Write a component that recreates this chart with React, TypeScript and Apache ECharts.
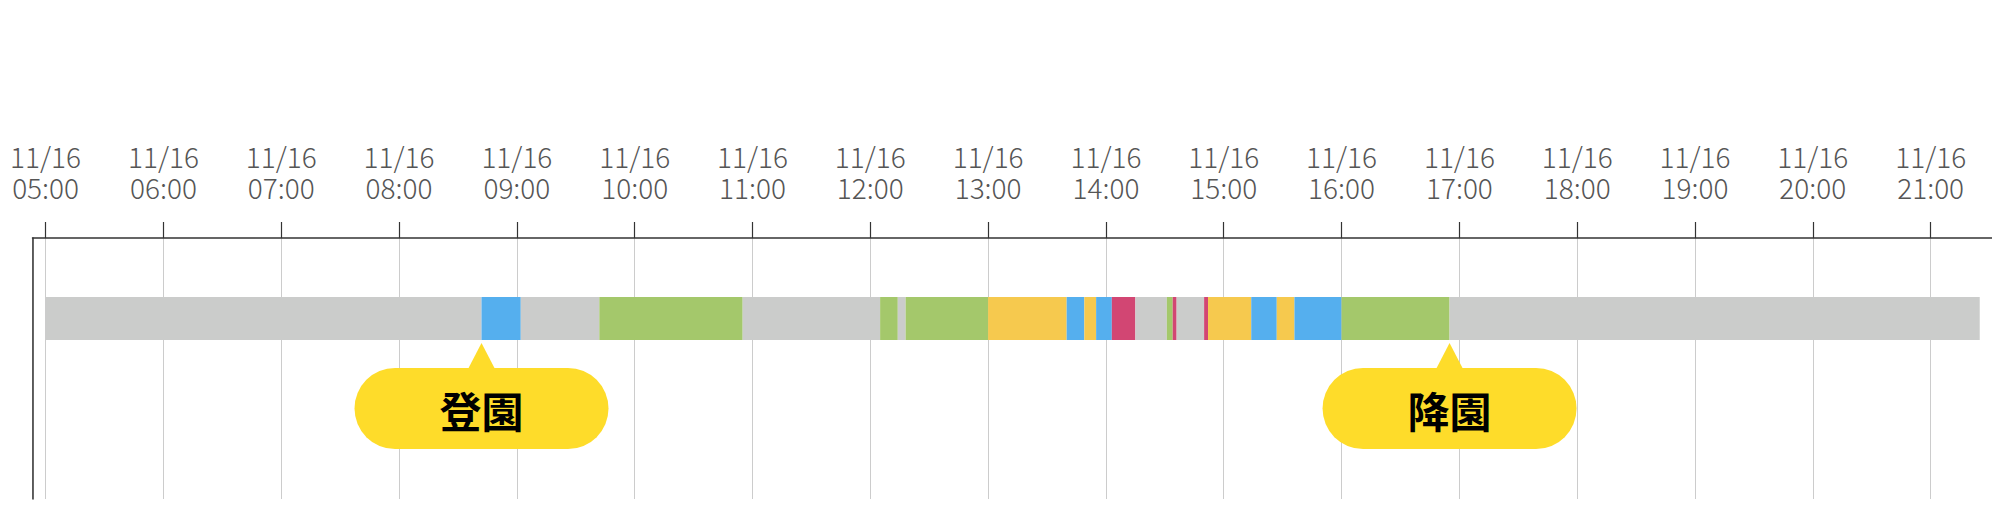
import React, { useEffect, useRef } from "react";
import * as echarts from "echarts";

// ---- data ----
const DAY = [2023, 10, 16]; // 2023-11-16 (month is 0-based)
const segStarts = [
  "05:00", "08:42", "09:02", "09:42", "10:55", "12:05", "12:14", "12:18",
  "13:00", "13:40", "13:49", "13:55", "14:03", "14:15", "14:31", "14:34",
  "14:36", "14:50", "14:52", "15:14", "15:27", "15:36", "16:00", "16:55",
];
const segEnds = [
  "08:42", "09:02", "09:42", "10:55", "12:05", "12:14", "12:18", "13:00",
  "13:40", "13:49", "13:55", "14:03", "14:15", "14:31", "14:34", "14:36",
  "14:50", "14:52", "15:14", "15:27", "15:36", "16:00", "16:55", "21:25",
];
const segKinds = [
  "none", "blue", "none", "green", "none", "green", "none", "green",
  "yellow", "blue", "yellow", "blue", "red", "none", "green", "red",
  "none", "red", "yellow", "blue", "yellow", "blue", "green", "none",
];
const kindNames = ["none", "blue", "green", "yellow", "red"];
const kindColors = ["#CBCCCB", "#55AFEE", "#A4C86B", "#F6C94E", "#D24673"];

const eventLabels = ["登園", "降園"];
const eventTimes = ["08:42", "16:55"];

const axisMinTime = "04:53:20";
const axisMaxTime = "21:31:15";
const CALLOUT_COLOR = "#FEDC2A";

function ts(hm: string): number {
  const p = hm.split(":").map(Number);
  return new Date(DAY[0], DAY[1], DAY[2], p[0], p[1], p[2] || 0).getTime();
}
const pad = (n: number) => (n < 10 ? "0" + n : "" + n);

export default function App() {
  const ref = useRef<HTMLDivElement>(null);
  useEffect(() => {
    if (!ref.current) return;
    const chart = echarts.init(ref.current, undefined, { renderer: "svg" });
    const segData = segStarts.map((s, i) => [ts(s), ts(segEnds[i]), kindNames.indexOf(segKinds[i])]);
    const evData = eventTimes.map((t, i) => [ts(t), i]);
    const font = '"Noto Sans CJK JP", "Noto Sans", sans-serif';
    const labelBase = {
      show: true,
      color: "#555",
      fontSize: 28,
      lineHeight: 31,
      fontFamily: font,
      fontWeight: 300,
      hideOverlap: false,
    };
    const axisBase = {
      type: "time",
      position: "top",
      min: ts(axisMinTime),
      max: ts(axisMaxTime),
      minInterval: 3600 * 1000,
      maxInterval: 3600 * 1000,
    };
    chart.setOption({
      animation: false,
      grid: { left: 32.5, right: 0, top: 238, bottom: 15 },
      xAxis: [
        {
          ...axisBase,
          axisLine: { show: true, onZero: false, lineStyle: { color: "#333", width: 1.5 } },
          axisTick: { show: true, length: 16, lineStyle: { color: "#333", width: 1.2 } },
          splitLine: { show: true, lineStyle: { color: "#CCCCCC", width: 1 } },
          axisLabel: {
            ...labelBase,
            margin: 36,
            formatter: (v: number) => {
              const d = new Date(v);
              return `${pad(d.getHours())}:${pad(d.getMinutes())}`;
            },
          },
        },
        {
          ...axisBase,
          axisLine: { show: false, onZero: false },
          axisTick: { show: false },
          splitLine: { show: false },
          axisLabel: {
            ...labelBase,
            margin: 67,
            formatter: (v: number) => {
              const d = new Date(v);
              return `${pad(d.getMonth() + 1)}/${pad(d.getDate())}`;
            },
          },
        },
      ],
      yAxis: {
        type: "value",
        min: 0,
        max: 1,
        axisLine: { show: true, onZero: false, lineStyle: { color: "#333", width: 1.5 } },
        axisTick: { show: false },
        axisLabel: { show: false },
        splitLine: { show: false },
      },
      series: [
        {
          type: "custom",
          xAxisIndex: 0,
          data: segData,
          encode: { x: [0, 1] },
          renderItem: (params: any, api: any) => {
            const cs = params.coordSys;
            const s = api.coord([api.value(0), 0]);
            const e = api.coord([api.value(1), 0]);
            return {
              type: "rect",
              shape: { x: s[0], y: cs.y + 59, width: e[0] - s[0], height: 43 },
              style: { fill: kindColors[api.value(2)] },
            };
          },
        },
        {
          type: "custom",
          xAxisIndex: 0,
          data: evData,
          encode: { x: 0 },
          z: 5,
          renderItem: (params: any, api: any) => {
            const cs = params.coordSys;
            const x = api.coord([api.value(0), 0])[0];
            const top = cs.y;
            const idx = api.value(1);
            return {
              type: "group",
              children: [
                {
                  type: "polygon",
                  shape: { points: [[x, top + 105], [x - 14, top + 132], [x + 14, top + 132]] },
                  style: { fill: CALLOUT_COLOR },
                },
                {
                  type: "rect",
                  shape: { x: x - 127, y: top + 130, width: 254, height: 81, r: 40.5 },
                  style: { fill: CALLOUT_COLOR },
                },
                {
                  type: "text",
                  style: {
                    text: eventLabels[idx],
                    x: x,
                    y: top + 171,
                    align: "center",
                    verticalAlign: "middle",
                    fontSize: 42,
                    fontWeight: "bold",
                    fontFamily: font,
                    fill: "#000",
                  },
                },
              ],
            };
          },
        },
      ],
    });
    return () => chart.dispose();
  }, []);
  return (
    <div
      ref={ref}
      style={{ position: "absolute", left: 0, top: 0, width: 1992, height: 514, background: "#fff" }}
    />
  );
}
